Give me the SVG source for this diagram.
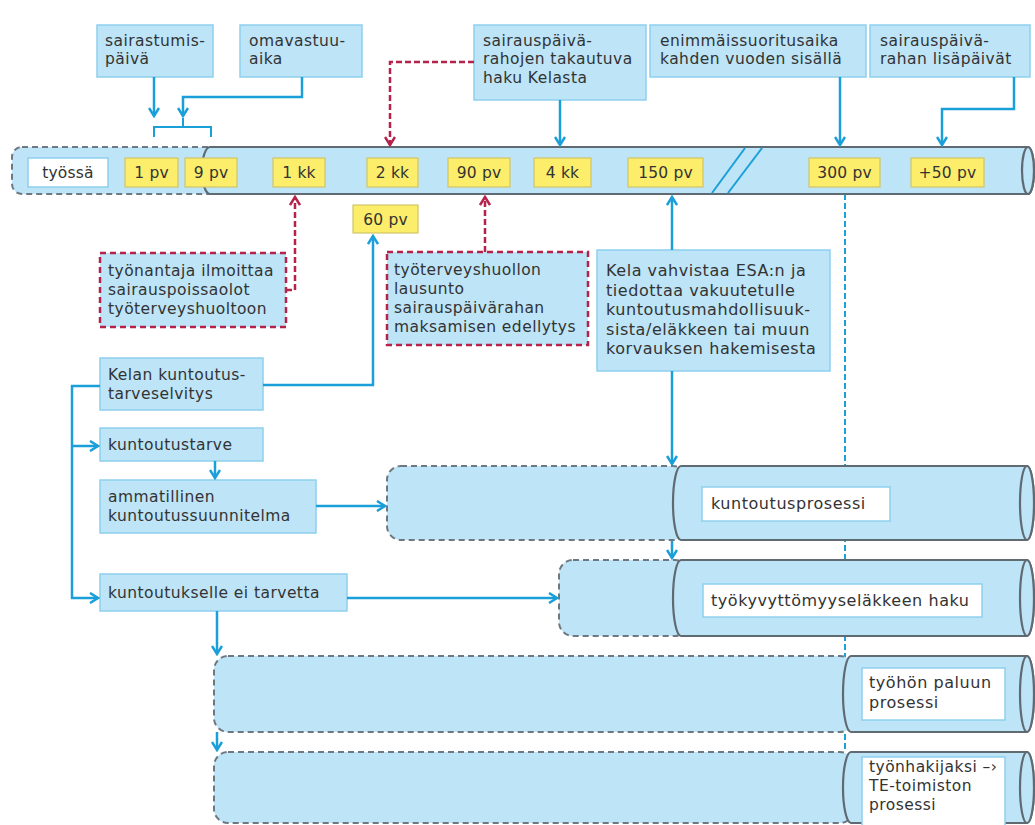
<svg xmlns="http://www.w3.org/2000/svg" width="1035" height="825" viewBox="0 0 1035 825">
<style>
text{font-family:'DejaVu Sans','Liberation Sans',sans-serif;font-size:15.5px;letter-spacing:0.45px;fill:#333;}
.m{font-size:16px;letter-spacing:0.55px;}
.box{fill:#bde4f7;stroke:#8fd0ee;stroke-width:1.5;}
.rbox{fill:#bde4f7;stroke:#b5234b;stroke-width:2.5;stroke-dasharray:6 4;}
.yl{fill:#fcee6a;stroke:#cfc56a;stroke-width:1.2;}
.wl{fill:#fff;stroke:#8fd0ee;stroke-width:1.5;}
.tl{font-size:15.5px;letter-spacing:0.2px;text-anchor:middle;}
.cyl{fill:#bde4f7;stroke:#5f6a72;stroke-width:2.2;}
.dsh{fill:#bde4f7;stroke:#6d7880;stroke-width:2;stroke-dasharray:6 4;}
.ba{fill:none;stroke:#1a9fd9;stroke-width:2.5;marker-end:url(#ab);}
.ra{fill:none;stroke:#b5234b;stroke-width:2.5;stroke-dasharray:6 3;marker-end:url(#ar);}
.bl{fill:none;stroke:#1a9fd9;stroke-width:2;}
</style>
<defs>
<marker id="ab" viewBox="0 0 12 12" refX="10" refY="6" markerWidth="12" markerHeight="12" markerUnits="userSpaceOnUse" orient="auto">
<path d="M2,1 L10,6 L2,11" fill="none" stroke="#1a9fd9" stroke-width="2.5"/>
</marker>
<marker id="ar" viewBox="0 0 12 12" refX="10" refY="6" markerWidth="12" markerHeight="12" markerUnits="userSpaceOnUse" orient="auto">
<path d="M2,1 L10,6 L2,11" fill="none" stroke="#b5234b" stroke-width="2.5"/>
</marker>
</defs>
<rect width="1035" height="825" fill="#fff"/>

<g id="guide-300pv">
<line x1="845" y1="194" x2="845" y2="752" stroke="#1a9fd9" stroke-width="2" stroke-dasharray="6 3"/>
</g>

<g id="timeline">
<rect class="dsh" x="12" y="147" width="206" height="47" rx="10"/>
<path class="cyl" d="M210,147 H1028 A6,23.5 0 0 1 1028,194 H210 A8,23.5 0 0 1 210,147 Z"/>
<ellipse class="cyl" cx="1028" cy="170.5" rx="6" ry="23.5"/>
<line class="bl" x1="712" y1="193" x2="745" y2="148"/>
<line class="bl" x1="728" y1="193" x2="762" y2="148"/>
</g>
<g id="lbl-tyossa"><rect class="wl" x="28" y="158" width="80" height="29"/><text class="tl" x="68" y="178">työssä</text></g>
<g id="lbl-1pv"><rect class="yl" x="125" y="158" width="53" height="29"/><text class="tl" x="151.5" y="178">1 pv</text></g>
<g id="lbl-9pv"><rect class="yl" x="185" y="158" width="52" height="29"/><text class="tl" x="211" y="178">9 pv</text></g>
<g id="lbl-1kk"><rect class="yl" x="273" y="158" width="52" height="29"/><text class="tl" x="299" y="178">1 kk</text></g>
<g id="lbl-2kk"><rect class="yl" x="367" y="158" width="51" height="29"/><text class="tl" x="392.5" y="178">2 kk</text></g>
<g id="lbl-90pv"><rect class="yl" x="448" y="158" width="62" height="29"/><text class="tl" x="479" y="178">90 pv</text></g>
<g id="lbl-4kk"><rect class="yl" x="534" y="158" width="57" height="29"/><text class="tl" x="562.5" y="178">4 kk</text></g>
<g id="lbl-150pv"><rect class="yl" x="628" y="158" width="75" height="29"/><text class="tl" x="665.5" y="178">150 pv</text></g>
<g id="lbl-300pv"><rect class="yl" x="809" y="158" width="71" height="29"/><text class="tl" x="844.5" y="178">300 pv</text></g>
<g id="lbl-50pv"><rect class="yl" x="911" y="158" width="73" height="29"/><text class="tl" x="947.5" y="178">+50 pv</text></g>
<g id="lbl-60pv"><rect class="yl" x="353" y="205" width="65" height="28"/><text class="tl" x="385.5" y="225">60 pv</text></g>

<g id="n-sairastumis"><rect class="box" x="97" y="25" width="116" height="52"/><text x="105" y="46">sairastumis-</text><text x="105" y="64.3">päivä</text></g>
<g id="n-omavastuu"><rect class="box" x="240" y="25" width="122" height="52"/><text x="249" y="46">omavastuu-</text><text x="249" y="64.3">aika</text></g>
<g id="n-takautuva"><rect class="box" x="474" y="25" width="172" height="75"/><text x="483" y="46">sairauspäivä-</text><text x="483" y="64.3">rahojen takautuva</text><text x="483" y="82.6">haku Kelasta</text></g>
<g id="n-enimmais"><rect class="box" x="650" y="25" width="216" height="52"/><text x="660" y="46">enimmäissuoritusaika</text><text x="660" y="64.3">kahden vuoden sisällä</text></g>
<g id="n-lisapaivat"><rect class="box" x="870" y="25" width="160" height="52"/><text x="880" y="46">sairauspäivä-</text><text x="880" y="64.3">rahan lisäpäivät</text></g>

<g id="n-tyonantaja"><rect class="rbox" x="100" y="253" width="186" height="74"/><text x="108" y="276">työnantaja ilmoittaa</text><text x="108" y="295">sairauspoissaolot</text><text x="108" y="314">työterveyshuoltoon</text></g>
<g id="n-lausunto"><rect class="rbox" x="387" y="252" width="201" height="93"/><text x="394" y="275">työterveyshuollon</text><text x="394" y="294">lausunto</text><text x="394" y="313">sairauspäivärahan</text><text x="394" y="332">maksamisen edellytys</text></g>
<g id="n-kela-esa"><rect class="box" x="597" y="250" width="233" height="121"/><text class="m" x="606" y="276">Kela vahvistaa ESA:n ja</text><text class="m" x="606" y="295.5">tiedottaa vakuutetulle</text><text class="m" x="606" y="315">kuntoutusmahdollisuuk-</text><text class="m" x="606" y="334.5">sista/eläkkeen tai muun</text><text class="m" x="606" y="354">korvauksen hakemisesta</text></g>

<g id="n-kuntoutustarveselvitys"><rect class="box" x="100" y="358" width="163" height="52"/><text x="108" y="380">Kelan kuntoutus-</text><text x="108" y="399">tarveselvitys</text></g>
<g id="n-kuntoutustarve"><rect class="box" x="100" y="428" width="163" height="33"/><text x="108" y="450">kuntoutustarve</text></g>
<g id="n-ammatillinen"><rect class="box" x="100" y="480" width="216" height="53"/><text x="108" y="502">ammatillinen</text><text x="108" y="521">kuntoutussuunnitelma</text></g>
<g id="n-eitarvetta"><rect class="box" x="100" y="574" width="247" height="37"/><text x="108" y="598">kuntoutukselle ei tarvetta</text></g>

<g id="n-kuntoutusprosessi">
<rect class="dsh" x="387" y="466" width="300" height="74" rx="14"/>
<path class="cyl" d="M681,466 H1027 A7,37 0 0 1 1027,540 H681 A8,37 0 0 1 681,466 Z"/>
<ellipse class="cyl" cx="1027" cy="503" rx="7" ry="37"/>
<rect class="wl" x="702" y="487" width="188" height="34"/><text class="m" x="711" y="509">kuntoutusprosessi</text>
</g>
<g id="n-tyokyvyttomyys">
<rect class="dsh" x="559" y="560" width="130" height="76" rx="14"/>
<path class="cyl" d="M681,560 H1027 A7,38 0 0 1 1027,636 H681 A8,38 0 0 1 681,560 Z"/>
<ellipse class="cyl" cx="1027" cy="598" rx="7" ry="38"/>
<rect class="wl" x="703" y="584" width="279" height="33"/><text class="m" x="711" y="606">työkyvyttömyyseläkkeen haku</text>
</g>
<g id="n-tyohon-paluu">
<rect class="dsh" x="214" y="656" width="640" height="76" rx="14"/>
<path class="cyl" d="M851,656 H1027 A7,38 0 0 1 1027,732 H851 A8,38 0 0 1 851,656 Z"/>
<ellipse class="cyl" cx="1027" cy="694" rx="7" ry="38"/>
<rect class="wl" x="862" y="668" width="143" height="52"/><text class="m" x="869" y="688">työhön paluun</text><text class="m" x="869" y="708">prosessi</text>
</g>
<g id="n-tyonhakijaksi">
<rect class="dsh" x="214" y="752" width="640" height="71" rx="14"/>
<path class="cyl" d="M851,752 H1027 A7,35.5 0 0 1 1027,823 H851 A8,35.5 0 0 1 851,752 Z"/>
<ellipse class="cyl" cx="1027" cy="787.5" rx="7" ry="35.5"/>
<rect class="wl" x="862" y="757" width="143" height="70"/><text x="869" y="772">työnhakijaksi –›</text><text x="869" y="791">TE-toimiston</text><text x="869" y="810">prosessi</text>
</g>

<g id="connectors">
<path class="ba" d="M154,77 V116"/>
<path class="ba" d="M302,77 V97 H183 V116"/>
<path class="bl" d="M154,137 V127 H211 V137 M183,127 V118"/>
<path class="ba" d="M560,100 V145"/>
<path class="ba" d="M840,77 V145"/>
<path class="ba" d="M1014,77 V109 H942 V145"/>
<path class="ra" d="M474,62 H390 V145"/>
<path class="ra" d="M286,290 H295 V197"/>
<path class="ra" d="M485,252 V197"/>
<path class="ba" d="M672,250 V197"/>
<path class="ba" d="M672,371 V464"/>
<path class="ba" d="M672,541 V558"/>
<path class="ba" d="M263,385 H373 V236"/>
<path class="ba" d="M100,386 H72 V598 H98"/>
<path class="ba" d="M72,446 H98"/>
<path class="ba" d="M215,461 V478"/>
<path class="ba" d="M316,506 H385"/>
<path class="ba" d="M347,598 H557"/>
<path class="ba" d="M217,611 V654"/>
<path class="ba" d="M217,732 V750"/>
</g>
</svg>
